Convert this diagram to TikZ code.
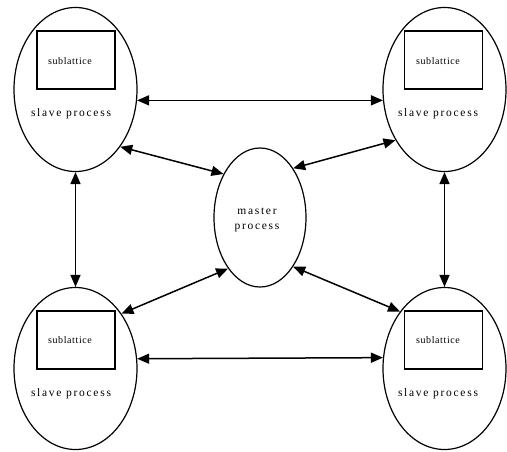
\documentclass[tikz,border=0pt]{standalone}
\usepackage{fontspec}
\setmainfont{Liberation Serif}
\newfontfamily\procfont[LetterSpace=15]{Liberation Serif}
\newfontfamily\subfont[LetterSpace=6]{Liberation Serif}
\usetikzlibrary{shapes.geometric,arrows.meta}
\begin{document}
\begin{tikzpicture}[x=1pt,y=-1pt,
  proc/.style={draw, ellipse, line width=1.2pt, inner sep=0pt},
  slave/.style={proc, minimum width=123pt, minimum height=164pt},
  subbox/.style={draw, line width=1.4pt, minimum width=78pt, minimum height=58pt, inner sep=0pt},
  sublabel/.style={font=\subfont\fontsize{10}{12}\selectfont, inner sep=0pt},
  proclabel/.style={font=\procfont\fontsize{11.5}{15}\selectfont, inner sep=0pt, align=center},
  link/.style={line width=1.5pt, {Triangle[length=12pt,width=10pt]}-{Triangle[length=12pt,width=10pt]}}]
\useasboundingbox (0,0) rectangle (507,451);
% slave processes
\node[slave] (tl) at (75.5,89.5) {};
\node[slave] (tr) at (444.5,89.5) {};
\node[slave, minimum height=162pt] (bl) at (75.5,368.5) {};
\node[slave, minimum height=162pt] (br) at (444.5,368.5) {};
% master
\node[proc, minimum width=92pt, minimum height=139pt] (m) at (260,217.5) {};
\node[proclabel] (mlab) at (257,219.5) {master\\process};
% sublattice boxes
\node[subbox] (tlbox) at (76,60) {};
\node[subbox] (trbox) at (443.5,60) {};
\node[subbox] (blbox) at (76,340) {};
\node[subbox] (brbox) at (443.5,340) {};
\node[sublabel] (tlsub) at (70,61) {sublattice};
\node[sublabel] (trsub) at (438,61) {sublattice};
\node[sublabel] (blsub) at (70,340) {sublattice};
\node[sublabel] (brsub) at (438,340) {sublattice};
% slave labels
\node[proclabel] (tllab) at (71,114) {slave process};
\node[proclabel] (trlab) at (438,114) {slave process};
\node[proclabel] (bllab) at (71,394) {slave process};
\node[proclabel] (brlab) at (438,394) {slave process};
% connectors
\draw[link] (tl.-10.5) -- (tr.190.5);
\draw[link] (bl.9.5) -- (br.170.5);
\draw[link] (tl.south) -- (bl.north);
\draw[link] (tr.south) -- (br.north);
\draw[link] (tl.-52.5) -- (m.130);
\draw[link] (m.56.6) -- (tr.-134.4);
\draw[link] (m.-122.3) -- (bl.50.5);
\draw[link] (m.-56) -- (br.128.7);
\end{tikzpicture}
\end{document}
